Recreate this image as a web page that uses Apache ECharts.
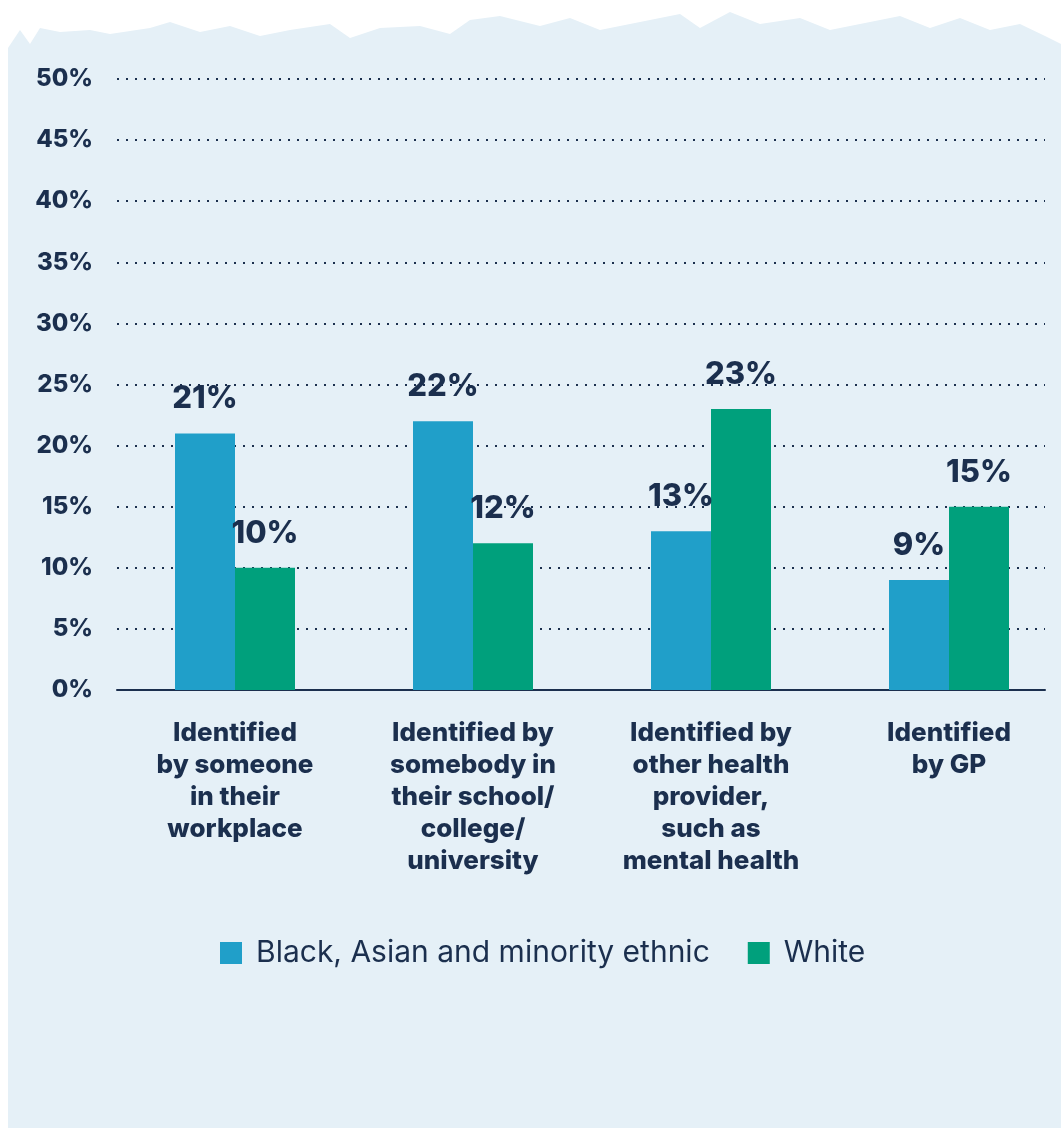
<!DOCTYPE html>
<html>
<head>
<meta charset="utf-8">
<script src="https://cdn.jsdelivr.net/npm/echarts@6/dist/echarts.min.js"></script>
<style>
  html, body { margin: 0; padding: 0; background: #fff; }
  #main { width: 1061px; height: 1131px; }
</style>
</head>
<body>
<div id="main"></div>
<script>
var categories = [
  'Identified\nby someone\nin their\nworkplace',
  'Identified by\nsomebody in\ntheir school/\ncollege/\nuniversity',
  'Identified by\nother health\nprovider,\nsuch as\nmental health',
  'Identified\nby GP'
];
var bameValues = [21, 22, 13, 9];
var whiteValues = [10, 12, 23, 15];
var seriesNames = ['Black, Asian and minority ethnic', 'White'];

var navy = '#1b2f4e';
var bg = '#e5f0f7';
var font = 'Inter';

// rough torn paper edge along the top of the panel
var torn = [[8,48],[20,30],[30,44],[40,28],[60,32],[90,30],[110,34],[150,28],[170,22],[200,32],[230,26],[260,36],[290,30],[330,24],[350,38],[380,28],[420,26],[450,34],[470,20],[500,16],[540,26],[570,18],[600,30],[640,22],[680,14],[700,28],[730,12],[760,24],[800,18],[830,30],[870,22],[900,16],[930,28],[960,18],[990,30],[1020,24],[1045,36],[1061,44]];
var tornPts = torn.concat([[1061,1128],[8,1128]]);

var chart = echarts.init(document.getElementById('main'));
var labelStyle = {
  show: true,
  position: 'top',
  distance: 19,
  formatter: '{c}%',
  color: navy,
  fontSize: 31,
  fontWeight: 800,
  fontFamily: font
};

var option = {
  backgroundColor: '#fff',
  graphic: [{
    type: 'polygon',
    z: -10,
    shape: { points: tornPts },
    style: { fill: bg }
  }],
  grid: [
    { left: 117, right: 16, top: 79, bottom: 441 },
    // bar grid: category ticks sit on the bar-pair centres
    { left: 235, right: 112, top: 79, bottom: 441 }
  ],
  legend: {
    top: 933,
    left: 215,
    itemWidth: 22,
    itemHeight: 22,
    itemGap: 38,
    icon: 'rect',
    textStyle: { color: navy, fontSize: 30, fontFamily: font, padding: [0, 0, 0, 9] },
    data: seriesNames
  },
  xAxis: [
    {
      type: 'category',
      gridIndex: 0,
      data: categories,
      axisLine: { show: true, lineStyle: { color: navy, width: 2 } },
      axisTick: { show: false },
      axisLabel: { show: false }
    },
    {
      type: 'category',
      gridIndex: 1,
      data: categories,
      boundaryGap: false,
      axisLine: { show: false },
      axisTick: { show: false },
      axisLabel: {
        interval: 0,
        margin: 27,
        color: navy,
        fontSize: 26,
        fontWeight: 800,
        fontFamily: font,
        lineHeight: 32
      }
    }
  ],
  yAxis: [
    {
      type: 'value',
      gridIndex: 0,
      min: 0,
      max: 50,
      interval: 5,
      axisLine: { show: false },
      axisTick: { show: false },
      axisLabel: {
        formatter: '{value}%',
        margin: 24,
        color: navy,
        fontSize: 24,
        fontWeight: 800,
        fontFamily: font
      },
      splitLine: { lineStyle: { color: navy, width: 2, type: [2, 7] } }
    },
    {
      type: 'value',
      gridIndex: 1,
      min: 0,
      max: 50,
      interval: 5,
      show: false,
      splitLine: { show: false }
    }
  ],
  series: [
    {
      name: seriesNames[0],
      type: 'bar',
      xAxisIndex: 1,
      yAxisIndex: 1,
      clip: false,
      data: bameValues,
      barWidth: 60,
      barGap: '0%',
      itemStyle: { color: '#209fc9' },
      label: labelStyle
    },
    {
      name: seriesNames[1],
      type: 'bar',
      xAxisIndex: 1,
      yAxisIndex: 1,
      clip: false,
      data: whiteValues,
      barWidth: 60,
      itemStyle: { color: '#00a07c' },
      label: labelStyle
    }
  ]
};
chart.setOption(option);
</script>
</body>
</html>
